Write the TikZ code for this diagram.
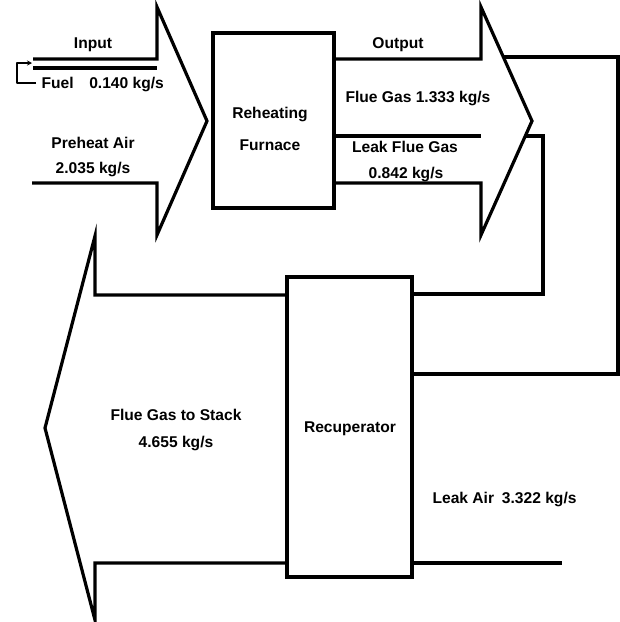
\documentclass[tikz,border=0pt]{standalone}
\usepackage{fontspec}
\setmainfont{Liberation Sans}
\usetikzlibrary{arrows.meta}

\begin{document}
\begin{tikzpicture}[x=1pt, y=-1pt, line width=3.2pt, line join=miter,
    font=\fontsize{15.6}{18}\selectfont\bfseries,
    plant/.style 2 args={draw, line width=3.2pt, inner sep=0pt, minimum width=#1, minimum height=#2},
    lbl/.style={anchor=base, inner sep=0pt}]

\useasboundingbox (0,0) rectangle (620,622);

\node[plant={121pt}{175pt}] (furnace) at (273.5,120.5) {};
\node[plant={125pt}{300pt}] (recup) at (349.5,427) {};

\coordinate (loopa) at (618,374);
\coordinate (loopb) at (543,294);

% input side
\draw (33,59) -- (157,59) -- (157,7) -- (207,121) -- (157,235) -- (157,183) -- (32,183);
\draw (33,68) -- (157,68);
\draw[line width=1.3pt, line join=round, -{Stealth[length=5pt, width=5pt]}]
    (36,83) -- (17,83) -- (17,63) -- (32,63);

% output side
\draw (furnace.east |- 0,59) -- (481,59) -- (481,7) -- (532,121) -- (481,235) -- (481,183) -- (furnace.east |- 0,183);
\draw (furnace.east |- 0,136) -- (481,136);
\draw (503,57) -- (loopa |- 0,57) -- (loopa) -- (recup.east |- loopa);
\draw (526,136) -- (loopb |- 0,136) -- (loopb) -- (recup.east |- loopb);

% stack side
\draw (recup.west |- 0,295) -- (95,295) -- (95,236) -- (45,428) -- (95,620) -- (95,563) -- (recup.west |- 0,563);
\draw (recup.east |- 0,563) -- (562,563);

\node[lbl] (input) at (93,48.5) {Input};
\node[lbl, anchor=base west] (fuel) at (40,88.5) {Fuel\quad 0.140 kg/s};
\node[lbl] (air) at (93,148.5) {Preheat Air};
\node[lbl] (airrate) at (93,173.5) {2.035 kg/s};
\node[lbl] (furnace1) at (270,118.5) {Reheating};
\node[lbl] (furnace2) at (270,150.5) {Furnace};
\node[lbl] (output) at (398,48.5) {Output};
\node[lbl] (flue) at (418,102.5) {Flue Gas 1.333 kg/s};
\node[lbl] (leak) at (405,152.5) {Leak Flue Gas};
\node[lbl] (leakrate) at (406,178.5) {0.842 kg/s};
\node[lbl] (stack) at (176,420.5) {Flue Gas to Stack};
\node[lbl] (stackrate) at (176,447.5) {4.655 kg/s};
\node[lbl] (recuptext) at (350,432.5) {Recuperator};
\node[lbl, anchor=base west] (leakair) at (431,503.5) {Leak Air\enspace 3.322 kg/s};

\end{tikzpicture}
\end{document}
